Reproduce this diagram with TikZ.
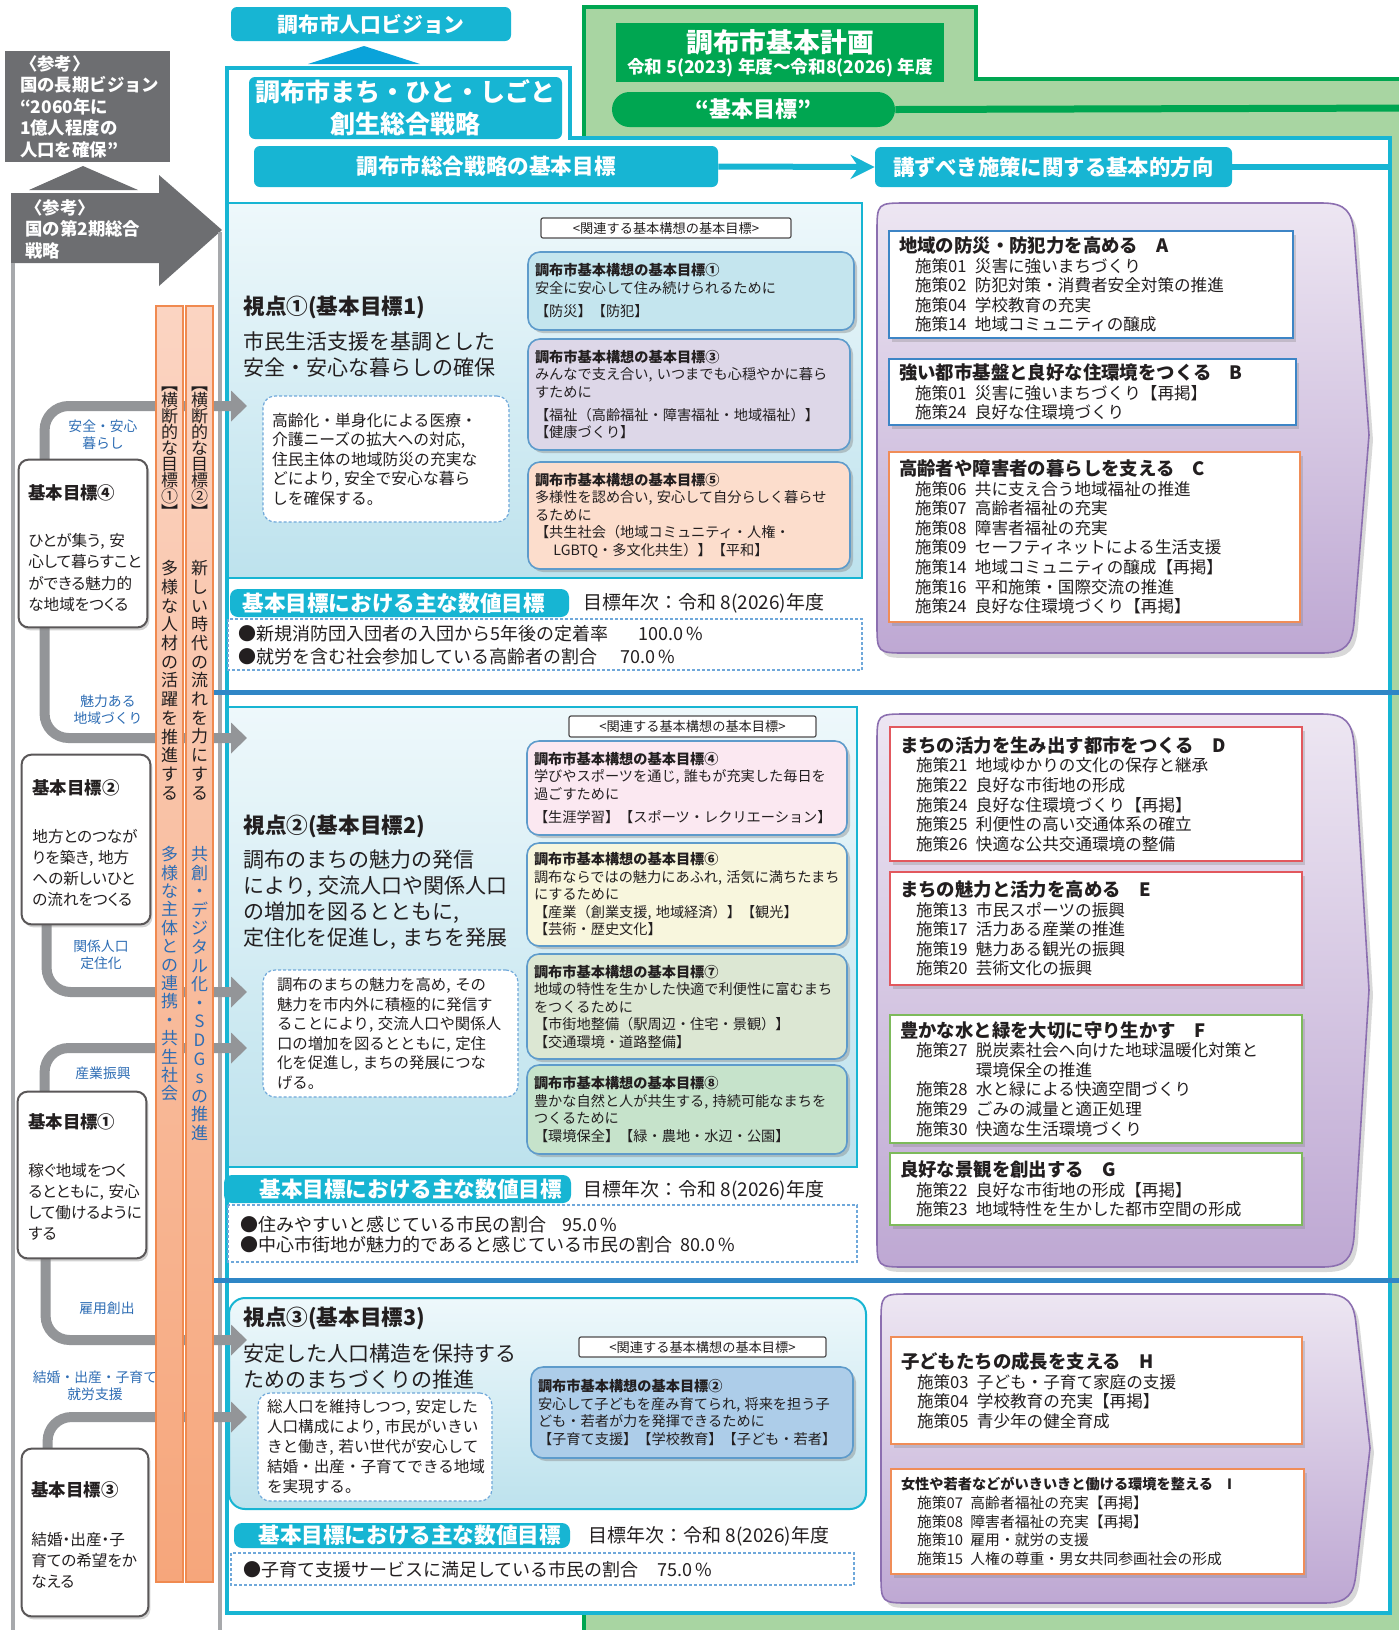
\documentclass[tikz,border=0pt]{standalone}
\usepackage{fontspec}
\setmainfont{Noto Sans CJK JP}
\newfontfamily\pfont{Noto Sans CJK JP}[RawFeature=+palt]
\usetikzlibrary{arrows.meta,shadows}

\definecolor{ink}{HTML}{231F20}
\definecolor{cyanbar}{HTML}{17B5D3}
\definecolor{visblue}{HTML}{0AA3DA}
\definecolor{refgray}{HTML}{6D6E71}
\definecolor{framegray}{HTML}{A7A9AC}
\definecolor{linkgray}{HTML}{939598}
\definecolor{plangreen}{HTML}{00A651}
\definecolor{planlight}{HTML}{A8D5A2}
\definecolor{sepblue}{HTML}{2F86C6}
\definecolor{labelblue}{HTML}{2E6DB4}
\definecolor{paneltop}{HTML}{EEF8FB}
\definecolor{panelbot}{HTML}{BDE2ED}
\definecolor{purptop}{HTML}{EDE6F2}
\definecolor{purpbot}{HTML}{BEA8D3}
\definecolor{purpline}{HTML}{8C6FB0}
\definecolor{bartop}{HTML}{FBD4C2}
\definecolor{barbot}{HTML}{F6A67B}
\definecolor{barline}{HTML}{F08A50}
\definecolor{goalline}{HTML}{5E9BCB}
\definecolor{dashblue}{HTML}{6FA8DA}
\definecolor{boxblue}{HTML}{3D85C6}
\definecolor{boxorange}{HTML}{F08D58}
\definecolor{boxred}{HTML}{E2585E}
\definecolor{boxgreen}{HTML}{7DBA5B}
\definecolor{kone}{HTML}{C4E5EE}
\definecolor{kthree}{HTML}{DDD7E8}
\definecolor{kfive}{HTML}{FCDDCC}
\definecolor{kfour}{HTML}{FBE8F1}
\definecolor{ksix}{HTML}{F8F6DD}
\definecolor{kseven}{HTML}{DCE7D3}
\definecolor{keight}{HTML}{C6E3CB}
\definecolor{ktwo}{HTML}{ADCDE9}

\newcommand{\fsz}[2]{\fontsize{#1}{#2}\selectfont}
\newcommand{\cma}{,\kern0.3em}
\newcommand{\sind}{\hspace*{8pt}}
\newcommand{\shead}[1]{{\fsz{9.2}{9.8}\bfseries #1}}

\begin{document}
\begin{tikzpicture}[x=0.5pt,y=-0.5pt,
  every node/.style={inner sep=0pt,text=ink},
  cyanbox/.style={fill=cyanbar,rounded corners=3pt,text=white},
  refbox/.style={fill=refgray,text=white},
  pill/.style={fill=plangreen,rounded corners=8.75pt,text=white},
  panel/.style={top color=paneltop,bottom color=panelbot,draw=cyanbar,line width=1pt},
  purp/.style={top color=purptop,bottom color=purpbot,draw=purpline,line width=0.8pt,
    drop shadow={shadow xshift=2pt,shadow yshift=-2.5pt,opacity=.3}},
  relbox/.style={draw=ink!80,fill=white,line width=0.6pt,rounded corners=1pt,font=\fsz{6.6}{7}},
  goal/.style={draw=goalline,line width=0.8pt,rounded corners=6pt,align=left,inner xsep=3.5pt,
    font=\fsz{7.1}{8.75},drop shadow={shadow xshift=1.5pt,shadow yshift=-1.5pt,opacity=.4}},
  sbox/.style={fill=white,line width=1pt,align=left,inner xsep=5pt,font=\fsz{8.3}{9.8},
    drop shadow={shadow xshift=1.5pt,shadow yshift=-2pt,opacity=.3}},
  dbox/.style={draw=dashblue,dash pattern=on 1.5pt off 1pt,line width=0.6pt,fill=white,
    rounded corners=6pt,align=left},
  ndash/.style={draw=dashblue,dash pattern=on 1.5pt off 1pt,line width=0.6pt,fill=white},
  numbar/.style={fill=cyanbar,rounded corners=4pt},
  lbox/.style={draw=ink!75,line width=1pt,fill=white,rounded corners=5pt,
    drop shadow={shadow xshift=1pt,shadow yshift=-1.5pt,opacity=.35}},
  ltext/.style={anchor=west,align=left,font=\pfont\fsz{7.8}{10.6}},
  lhead/.style={anchor=west,font=\fsz{8.7}{10}\bfseries},
  lbl/.style={align=center,text=labelblue,font=\fsz{6.9}{8.5}},
  link/.style={linkgray,line width=5pt,rounded corners=12pt,-{Triangle[length=8pt,width=15pt]}},
  obar/.style={draw=barline,line width=0.8pt,top color=bartop,bottom color=barbot,
    minimum width=13.5pt,minimum height=638pt},
  vtxt/.style={anchor=north,align=center}]

\useasboundingbox (0,0) rectangle (1399,1630);
\fill[white] (0,0) rectangle (1399,1630);

% green plan frame
\draw[plangreen,line width=2pt,fill=planlight] (584,1660) -- (584,7) -- (976,7) -- (976,79) -- (1420,79) -- (1420,1660) -- cycle;
\node[fill=plangreen,minimum width=164pt,minimum height=29.5pt] (plan) at (780,52.5) {};
\node[text=white,font=\fsz{13.4}{14}\bfseries] (plant) at (780,42) {調布市基本計画};
\node[text=white,font=\fsz{8.8}{10}\bfseries] (plany) at (780,68) {令和 5(2023) 年度～令和8(2026) 年度};
\coordinate (gend) at (1420,108);
\node[pill,minimum width=141.5pt,minimum height=17.5pt,font=\fsz{11}{12}\bfseries] (goal) at (753.5,109.5) {“基本目標”};
\draw[plangreen,line width=3.5pt] (goal.east) -- (gend);

% cyan strategy frame
\draw[cyanbar,line width=2pt,fill=white] (227,1613) -- (227,68) -- (570,68) -- (570,138) -- (1390,138) -- (1390,1613) -- cycle;
\node[cyanbox,minimum width=140pt,minimum height=17pt,font=\fsz{10.4}{12}\bfseries] (vision) at (371,24) {調布市人口ビジョン};
\fill[visblue] (308,64) -- (420,64) -- (364,46) -- cycle;
\node[cyanbox,minimum width=156.5pt,minimum height=31pt,align=center,font=\fsz{12.5}{16}\bfseries] (strat) at (405.5,108) {調布市まち・ひと・しごと\\創生総合戦略};
\node[cyanbox,minimum width=232pt,minimum height=20.5pt,font=\fsz{10.8}{12}\bfseries] (sogo) at (486,166.5) {調布市総合戦略の基本目標};
\node[cyanbox,minimum width=178.5pt,minimum height=20pt,font=\fsz{10.7}{12}\bfseries] (kozu) at (1053.5,167) {講ずべき施策に関する基本的方向};
\coordinate (kend) at (1390,167);
\draw[cyanbar,line width=3pt,-{Stealth[length=12pt,width=12pt,inset=4pt]}] (sogo.east) -- (kozu.west);
\draw[cyanbar,line width=3pt] (kozu.east) -- (kend);

% national references
\node[refbox,minimum width=82.5pt,minimum height=55.5pt,text width=67.5pt,align=left,font=\fsz{8.7}{10.75}\bfseries] (ref1) at (87.5,106.5) {〈参考〉\\国の長期ビジョン\\“2060年に\\1億人程度の\\人口を確保”};
\fill[refgray] (29,190) -- (138,190) -- (83,166) -- cycle;
\fill[refgray] (11,193) -- (159,193) -- (159,175) -- (222,230) -- (159,286) -- (159,263) -- (11,263) -- cycle;
\node[anchor=west,align=left,text=white,font=\fsz{8.7}{10.75}\bfseries] (ref2) at (25,229) {〈参考〉\\国の第2期総合\\戦略};
\draw[framegray,line width=2pt] (13,263) -- (13,1660);
\draw[framegray,line width=2pt] (220,232) -- (220,1660);

% section 1
\draw[panel] (228,203) rectangle (862,578);
\node[relbox,minimum width=125pt,minimum height=10pt] (r1) at (666,228) {<関連する基本構想の基本目標>};
\node[anchor=west,font=\fsz{10.8}{12}\bfseries] (p1) at (243,307) {視点①(基本目標1)};
\node[anchor=west,align=left,font=\fsz{10.5}{13}] (p1t) at (243,354) {市民生活支援を基調とした\\安全・安心な暮らしの確保};
\node[dbox,text width=114pt,inner xsep=4.5pt,minimum height=63pt,font=\fsz{7.9}{9.75}] (d1) at (386,459) {高齢化・単身化による医療・\\介護ニーズの拡大への対応,\\住民主体の地域防災の充実な\\どにより\cma 安全で安心な暮ら\\しを確保する。};
\node[goal,fill=kone,text width=156pt,minimum height=39pt] (k1) at (691,291) {{\bfseries 調布市基本構想の基本目標①}\\安全に安心して住み続けられるために\\[3pt]【防災】【防犯】};
\node[goal,fill=kthree,text width=154pt,minimum height=55.5pt] (k3) at (689,394.5) {{\bfseries 調布市基本構想の基本目標③}\\みんなで支え合い\cma いつまでも心穏やかに暮ら\\すために\\[3pt]【福祉（高齢福祉・障害福祉・地域福祉）】\\【健康づくり】};
\node[goal,fill=kfive,text width=154pt,minimum height=53.5pt] (k5) at (689,515.5) {{\bfseries 調布市基本構想の基本目標⑤}\\多様性を認め合い\cma 安心して自分らしく暮らせ\\るために\\【共生社会（地域コミュニティ・人権・\\\hspace*{1.3em}LGBTQ・多文化共生）】【平和】};
\node[numbar,minimum width=169.5pt,minimum height=14pt] (nb1) at (399.5,603) {};
\node[anchor=west,text=white,font=\fsz{10.8}{12}\bfseries] (nb1t) at (242,603) {基本目標における主な数値目標};
\node[anchor=west,font=\fsz{9.5}{11}] (y1) at (583,603) {目標年次：令和 8(2026)年度};
\draw[ndash] (228,619) rectangle (862,670);
\node[anchor=west,font=\fsz{9}{10}] (n1a) at (238,634) {●新規消防団入団者の入団から5年後の定着率};
\node[anchor=west,font=\fsz{9}{10}] (n1b) at (638,634) {100.0\,\%};
\node[anchor=west,font=\fsz{9}{10}] (n1c) at (238,657) {●就労を含む社会参加している高齢者の割合};
\node[anchor=west,font=\fsz{9}{10}] (n1d) at (620,657) {70.0\,\%};

\draw[purp] (907,203) -- (1322,203) .. controls (1346,203) and (1352,212) .. (1354,233) -- (1369,435) -- (1354,623) .. controls (1352,644) and (1346,653) .. (1322,653) -- (907,653) .. controls (877,653) .. (877,623) -- (877,233) .. controls (877,203) .. (907,203) -- cycle;
\node[sbox,draw=boxblue,text width=192pt,minimum height=53.5pt] (sA) at (1091,284.5) {\shead{地域の防災・防犯力を高める\quad A}\\\sind 施策01\enspace 災害に強いまちづくり\\\sind 施策02\enspace 防犯対策・消費者安全対策の推進\\\sind 施策04\enspace 学校教育の充実\\\sind 施策14\enspace 地域コミュニティの醸成};
\node[sbox,draw=boxblue,text width=193.5pt,minimum height=33pt] (sB) at (1092.5,392) {\shead{強い都市基盤と良好な住環境をつくる\quad B}\\\sind 施策01\enspace 災害に強いまちづくり【再掲】\\\sind 施策24\enspace 良好な住環境づくり};
\node[sbox,draw=boxorange,text width=195.5pt,minimum height=85pt] (sC) at (1094.5,537) {\shead{高齢者や障害者の暮らしを支える\quad C}\\\sind 施策06\enspace 共に支え合う地域福祉の推進\\\sind 施策07\enspace 高齢者福祉の充実\\\sind 施策08\enspace 障害者福祉の充実\\\sind 施策09\enspace セーフティネットによる生活支援\\\sind 施策14\enspace 地域コミュニティの醸成【再掲】\\\sind 施策16\enspace 平和施策・国際交流の推進\\\sind 施策24\enspace 良好な住環境づくり【再掲】};

% section 2
\draw[panel] (228,707) rectangle (857,1167);
\node[relbox,minimum width=123.5pt,minimum height=10.5pt] (r2) at (692.5,726.5) {<関連する基本構想の基本目標>};
\node[anchor=west,font=\fsz{10.8}{12}\bfseries] (p2) at (243,826) {視点②(基本目標2)};
\node[anchor=west,align=left,font=\fsz{10.5}{13}] (p2t) at (243,900) {調布のまちの魅力の発信\\により\cma 交流人口や関係人口\\の増加を図るとともに,\\定住化を促進し\cma まちを発展};
\node[dbox,text width=113.5pt,inner xsep=7pt,minimum height=63.5pt,font=\fsz{7.7}{9.8}] (d2) at (390.5,1033.5) {調布のまちの魅力を高め\cma その\\魅力を市内外に積極的に発信す\\ることにより\cma 交流人口や関係人\\口の増加を図るとともに\cma 定住\\化を促進し\cma まちの発展につな\\げる。};
\node[goal,fill=kfour,text width=153pt,minimum height=47pt] (k4) at (687,788) {{\bfseries 調布市基本構想の基本目標④}\\学びやスポーツを通じ\cma 誰もが充実した毎日を\\過ごすために\\[3pt]【生涯学習】【スポーツ・レクリエーション】};
\node[goal,fill=ksix,text width=153pt,minimum height=51.5pt] (k6) at (687,894.5) {{\bfseries 調布市基本構想の基本目標⑥}\\調布ならではの魅力にあふれ\cma 活気に満ちたまち\\にするために\\【産業（創業支援\cma 地域経済）】【観光】\\【芸術・歴史文化】};
\node[goal,fill=kseven,text width=153pt,minimum height=52.5pt] (k7) at (687,1006.5) {{\bfseries 調布市基本構想の基本目標⑦}\\地域の特性を生かした快適で利便性に富むまち\\をつくるために\\【市街地整備（駅周辺・住宅・景観）】\\【交通環境・道路整備】};
\node[goal,fill=keight,text width=153pt,minimum height=44.5pt] (k8) at (687,1109.5) {{\bfseries 調布市基本構想の基本目標⑧}\\豊かな自然と人が共生する\cma 持続可能なまちを\\つくるために\\【環境保全】【緑・農地・水辺・公園】};
\node[numbar,minimum width=173.5pt,minimum height=14pt] (nb2) at (397.5,1189) {};
\node[anchor=west,text=white,font=\fsz{10.8}{12}\bfseries] (nb2t) at (259,1189) {基本目標における主な数値目標};
\node[anchor=west,font=\fsz{9.5}{11}] (y2) at (583,1190) {目標年次：令和 8(2026)年度};
\draw[ndash] (228,1205) rectangle (857,1262);
\node[anchor=west,font=\fsz{9}{10}] (n2a) at (240,1225) {●住みやすいと感じている市民の割合};
\node[anchor=west,font=\fsz{9}{10}] (n2b) at (562,1225) {95.0\,\%};
\node[anchor=west,font=\fsz{9}{10}] (n2c) at (240,1245) {●中心市街地が魅力的であると感じている市民の割合};
\node[anchor=west,font=\fsz{9}{10}] (n2d) at (680,1245) {80.0\,\%};

\draw[purp] (907,714) -- (1322,714) .. controls (1346,714) and (1352,723) .. (1354,744) -- (1369,990) -- (1354,1237) .. controls (1352,1258) and (1346,1267) .. (1322,1267) -- (907,1267) .. controls (877,1267) .. (877,1237) -- (877,744) .. controls (877,714) .. (907,714) -- cycle;
\node[sbox,draw=boxred,text width=196pt,minimum height=67pt] (sD) at (1096,794) {\shead{まちの活力を生み出す都市をつくる\quad D}\\\sind 施策21\enspace 地域ゆかりの文化の保存と継承\\\sind 施策22\enspace 良好な市街地の形成\\\sind 施策24\enspace 良好な住環境づくり【再掲】\\\sind 施策25\enspace 利便性の高い交通体系の確立\\\sind 施策26\enspace 快適な公共交通環境の整備};
\node[sbox,draw=boxred,text width=196pt,minimum height=56.5pt] (sE) at (1096,928.5) {\shead{まちの魅力と活力を高める\quad E}\\\sind 施策13\enspace 市民スポーツの振興\\\sind 施策17\enspace 活力ある産業の推進\\\sind 施策19\enspace 魅力ある観光の振興\\\sind 施策20\enspace 芸術文化の振興};
\node[sbox,draw=boxgreen,text width=196pt,minimum height=64pt] (sF) at (1096,1079) {\shead{豊かな水と緑を大切に守り生かす\quad F}\\\sind 施策27\enspace 脱炭素社会へ向けた地球温暖化対策と\\\sind\phantom{施策27\enspace}環境保全の推進\\\sind 施策28\enspace 水と緑による快適空間づくり\\\sind 施策29\enspace ごみの減量と適正処理\\\sind 施策30\enspace 快適な生活環境づくり};
\node[sbox,draw=boxgreen,text width=196pt,minimum height=36pt] (sG) at (1096,1189) {\shead{良好な景観を創出する\quad G}\\\sind 施策22\enspace 良好な市街地の形成【再掲】\\\sind 施策23\enspace 地域特性を生かした都市空間の形成};

% section 3
\draw[panel,rounded corners=8pt] (229,1298) rectangle (866,1509);
\node[relbox,minimum width=123.5pt,minimum height=10pt] (r3) at (702.5,1347) {<関連する基本構想の基本目標>};
\node[anchor=west,font=\fsz{10.8}{12}\bfseries] (p3) at (243,1318) {視点③(基本目標3)};
\node[anchor=west,align=left,font=\fsz{10.5}{13}] (p3t) at (243,1366) {安定した人口構造を保持する\\ためのまちづくりの推進};
\node[dbox,text width=108pt,inner xsep=4.5pt,minimum height=54pt,font=\fsz{7.8}{10}] (d3) at (375,1447) {総人口を維持しつつ\cma 安定した\\人口構成により\cma 市民がいきい\\きと働き\cma 若い世代が安心して\\結婚・出産・子育てできる地域\\を実現する。};
\node[goal,fill=ktwo,text width=154pt,minimum height=45.5pt] (k2) at (692,1412.5) {{\bfseries 調布市基本構想の基本目標②}\\安心して子どもを産み育てられ\cma 将来を担う子\\ども・若者が力を発揮できるために\\【子育て支援】【学校教育】【子ども・若者】};
\node[numbar,minimum width=168pt,minimum height=12.5pt] (nb3) at (402,1535.5) {};
\node[anchor=west,text=white,font=\fsz{10.8}{12}\bfseries] (nb3t) at (258,1535.5) {基本目標における主な数値目標};
\node[anchor=west,font=\fsz{9.5}{11}] (y3) at (588,1536) {目標年次：令和 8(2026)年度};
\draw[ndash] (231,1553) rectangle (854,1585);
\node[anchor=west,font=\fsz{9}{10}] (n3a) at (243,1570) {●子育て支援サービスに満足している市民の割合};
\node[anchor=west,font=\fsz{9}{10}] (n3b) at (657,1570) {75.0\,\%};

\draw[purp] (911,1294) -- (1324,1294) .. controls (1348,1294) and (1354,1303) .. (1356,1324) -- (1370,1448) -- (1356,1573) .. controls (1354,1594) and (1348,1603) .. (1324,1603) -- (911,1603) .. controls (881,1603) .. (881,1573) -- (881,1324) .. controls (881,1294) .. (911,1294) -- cycle;
\node[sbox,draw=boxorange,text width=195.5pt,minimum height=53.5pt] (sH) at (1096.5,1390.5) {\shead{子どもたちの成長を支える\quad H}\\\sind 施策03\enspace 子ども・子育て家庭の支援\\\sind 施策04\enspace 学校教育の充実【再掲】\\\sind 施策05\enspace 青少年の健全育成};
\node[sbox,draw=boxorange,text width=196.5pt,minimum height=52.5pt,font=\fsz{7.4}{9.4}] (sI) at (1097.5,1521.5) {{\fsz{7.1}{9.4}\bfseries 女性や若者などがいきいきと働ける環境を整える\quad I}\\\sind 施策07\enspace 高齢者福祉の充実【再掲】\\\sind 施策08\enspace 障害者福祉の充実【再掲】\\\sind 施策10\enspace 雇用・就労の支援\\\sind 施策15\enspace 人権の尊重・男女共同参画社会の形成};

% separators
\draw[sepblue,line width=2.5pt] (200,692) -- (1420,692);
\draw[sepblue,line width=2.5pt] (200,1280) -- (1420,1280);

% left goals and links
\coordinate (a1) at (247,406);
\coordinate (a2) at (247,738);
\coordinate (a3) at (247,992);
\coordinate (a4) at (247,1048);
\coordinate (a5) at (247,1340);
\coordinate (a6) at (247,1417);
\node[minimum width=64pt,minimum height=83.5pt] (g4) at (83,543.5) {};
\node[minimum width=64pt,minimum height=84.5pt] (g2) at (86,839.5) {};
\node[minimum width=64pt,minimum height=83pt] (g1) at (82,1175) {};
\node[minimum width=63pt,minimum height=83.5pt] (g3) at (85,1532.5) {};
\draw[link] ([xshift=13pt]g4.north west) |- (a1);
\draw[link] ([xshift=13pt]g4.south west) |- (a2);
\draw[link] ([xshift=12.5pt]g2.south west) |- (a3);
\draw[link] ([xshift=13.5pt]g1.north west) |- (a4);
\draw[link] ([xshift=14pt]g1.south west) |- (a5);
\draw[link] ([xshift=13pt]g3.north west) |- (a6);
\draw[lbox] (g4.north west) rectangle (g4.south east);
\draw[lbox] (g2.north west) rectangle (g2.south east);
\draw[lbox] (g1.north west) rectangle (g1.south east);
\draw[lbox] (g3.north west) rectangle (g3.south east);
\node[lhead] (g4h) at (28,493) {基本目標④};
\node[ltext] (g4t) at (28,572.5) {ひとが集う\cma 安\\心して暮らすこと\\ができる魅力的\\な地域をつくる};
\node[lhead] (g2h) at (32,788) {基本目標②};
\node[ltext] (g2t) at (32,868) {地方とのつなが\\りを築き\cma 地方\\への新しいひと\\の流れをつくる};
\node[lhead] (g1h) at (28,1122) {基本目標①};
\node[ltext] (g1t) at (28,1202) {稼ぐ地域をつく\\るとともに\cma 安心\\して働けるように\\する};
\node[lhead] (g3h) at (31,1490) {基本目標③};
\node[ltext] (g3t) at (31,1560.5) {結婚・出産・子\\育ての希望をか\\なえる};
\node[lbl] (l1) at (103,434.5) {安全・安心\\暮らし};
\node[lbl] (l2) at (108,709.5) {魅力ある\\地域づくり};
\node[lbl] (l3) at (101,955) {関係人口\\定住化};
\node[lbl] (l4) at (103,1073) {産業振興};
\node[lbl] (l5) at (107,1308) {雇用創出};
\node[lbl] (l6) at (95,1385.5) {結婚・出産・子育て\\就労支援};

% cross-cutting bars
\node[obar] (o1) at (169.5,944) {};
\node[obar] (o2) at (199.5,944) {};
\node[vtxt,font=\fsz{8.5}{8}] (v1a) at (169.5,386) {︻\\横\\断\\的\\な\\目\\標\\①\\︼};
\node[vtxt,font=\fsz{8.5}{9.35}] (v1b) at (169.5,560) {多\\様\\な\\人\\材\\の\\活\\躍\\を\\推\\進\\す\\る};
\node[vtxt,text=labelblue,font=\fsz{8.5}{9.2}] (v1c) at (169.5,846) {多\\様\\な\\主\\体\\と\\の\\連\\携\\・\\共\\生\\社\\会};
\node[vtxt,font=\fsz{8.5}{8}] (v2a) at (199.5,386) {︻\\横\\断\\的\\な\\目\\標\\②\\︼};
\node[vtxt,font=\fsz{8.5}{9.35}] (v2b) at (199.5,560) {新\\し\\い\\時\\代\\の\\流\\れ\\を\\力\\に\\す\\る};
\node[vtxt,text=labelblue,font=\fsz{8.5}{9.3}] (v2c) at (199.5,846) {共\\創\\・\\デ\\ジ\\タ\\ル\\化\\・\\S\\D\\G\\s\\の\\推\\進};

\end{tikzpicture}
\end{document}
